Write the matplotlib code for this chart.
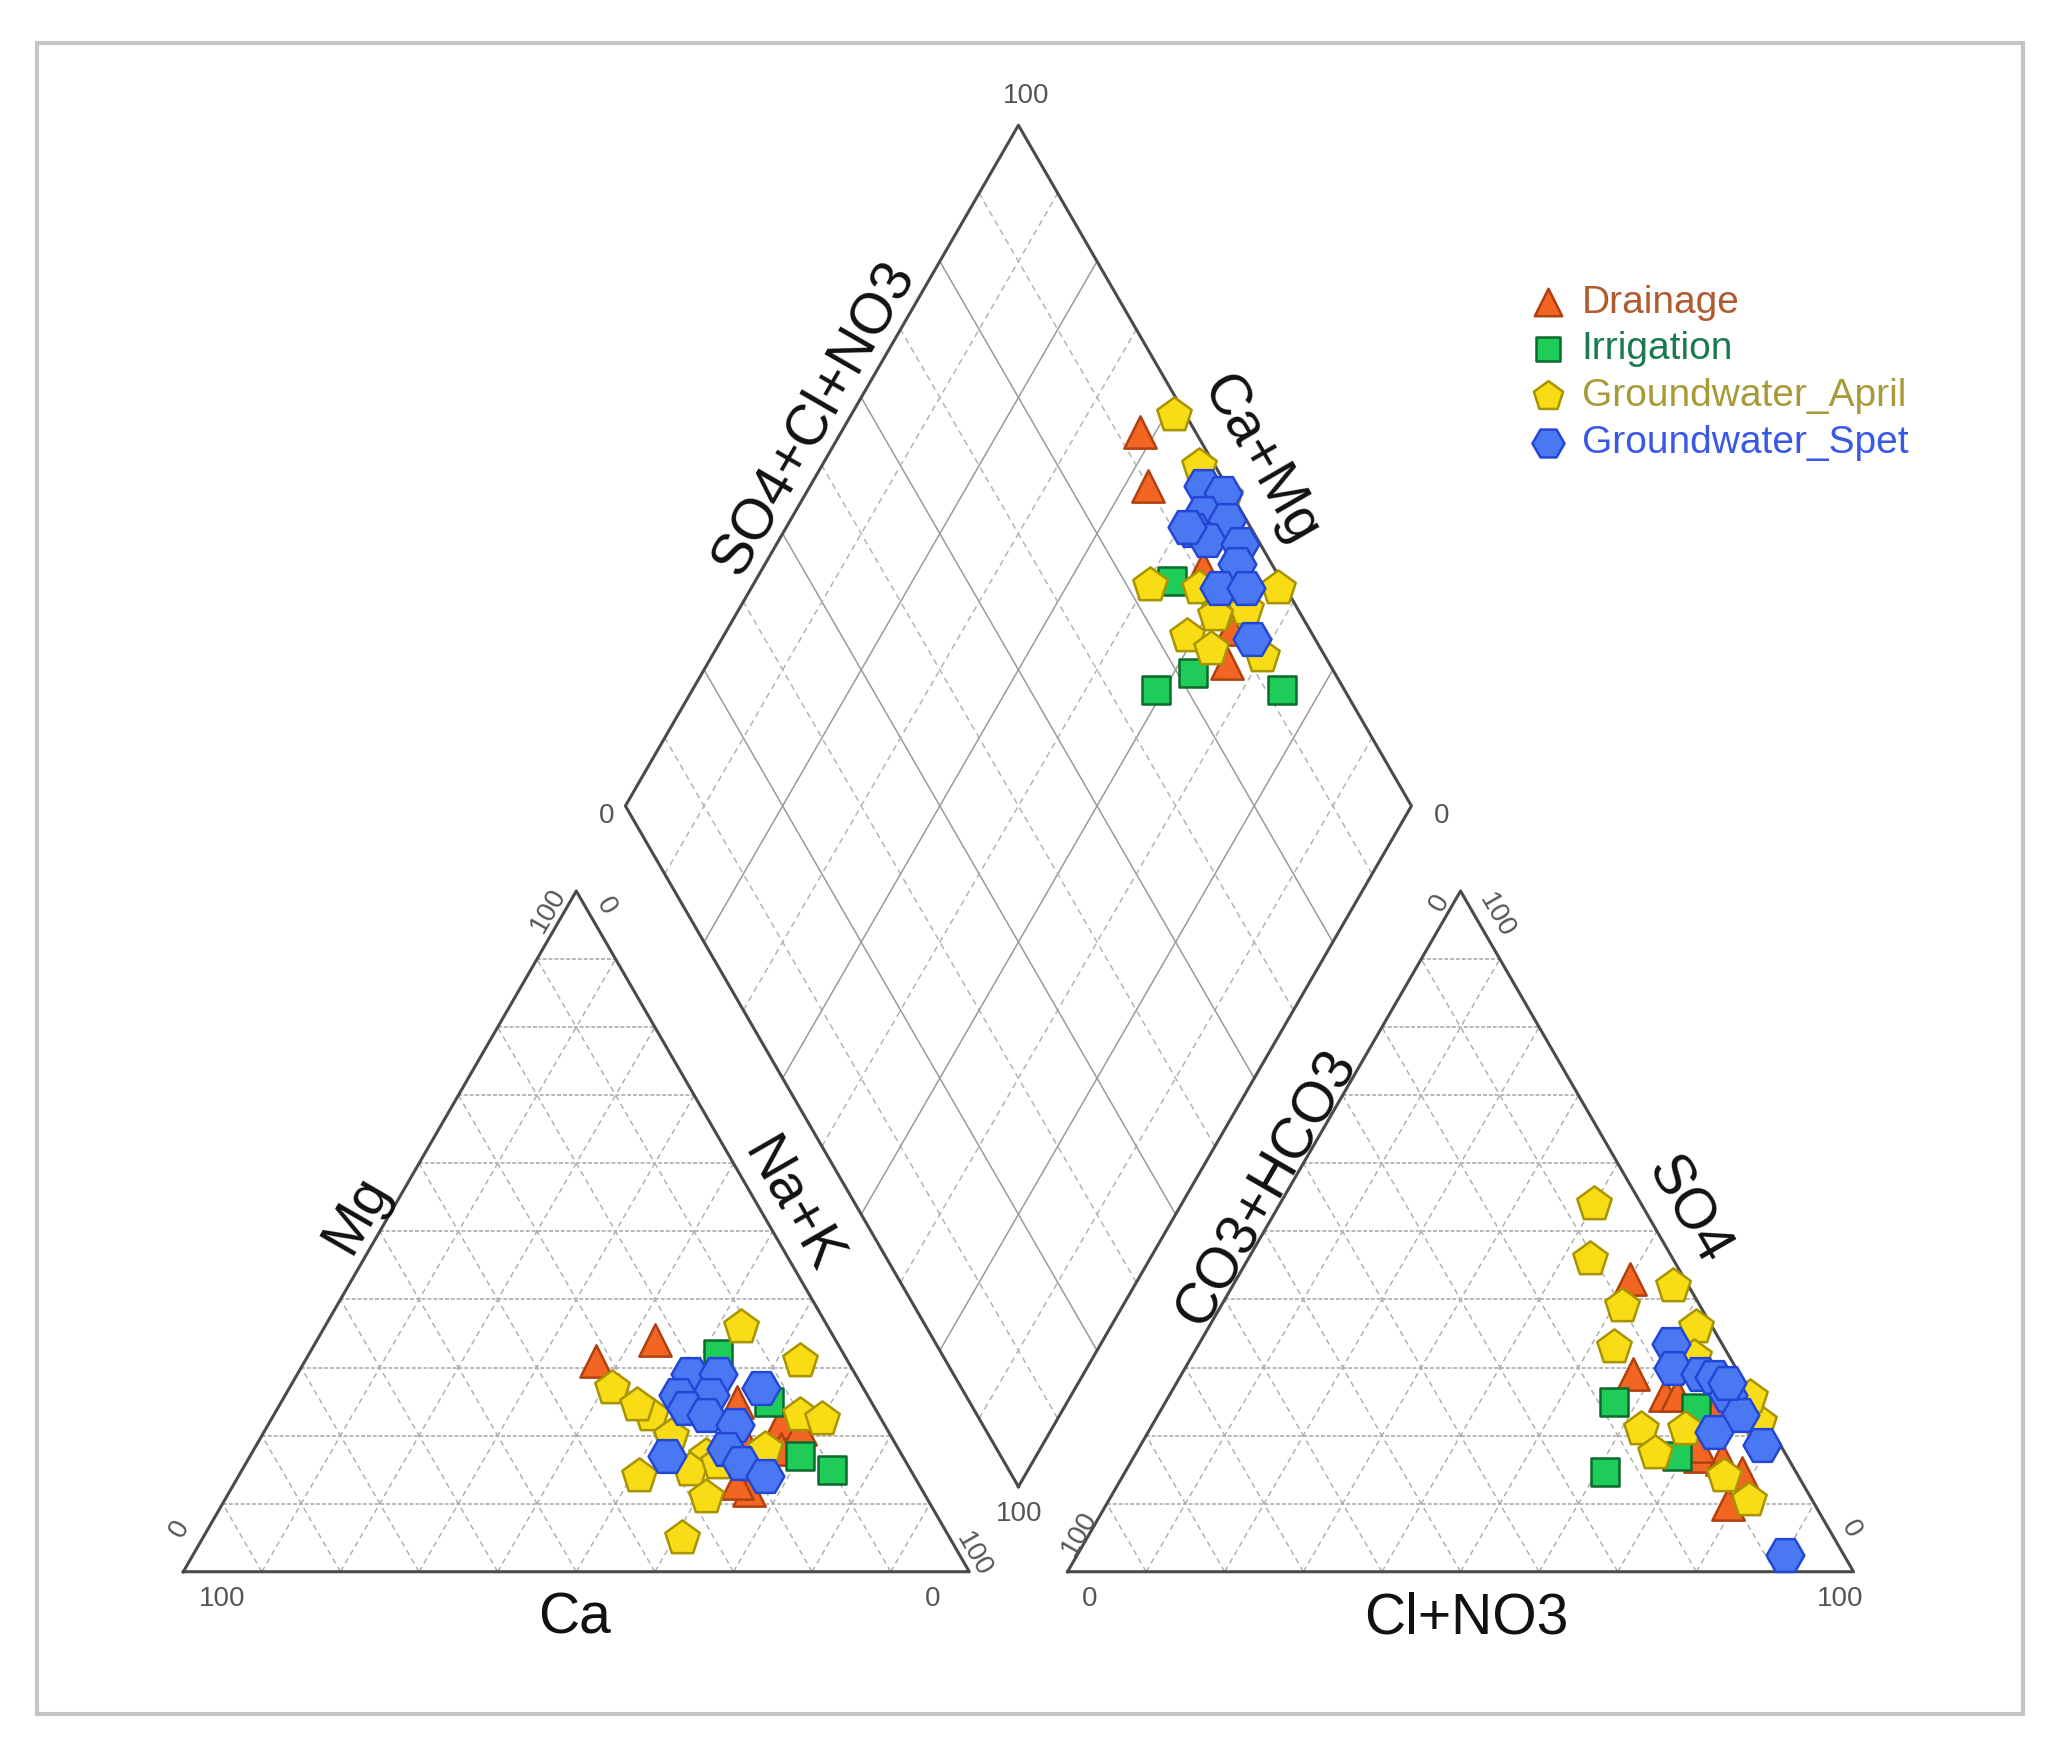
import matplotlib
matplotlib.use("Agg")
import matplotlib.pyplot as plt
from matplotlib.patches import Rectangle
import numpy as np

plt.rcParams['font.family'] = ['Liberation Sans', 'DejaVu Sans']

# cation triangle (percent): Ca, Mg  (Na+K = 100 - Ca - Mg)
drain_ca = [32, 23, 17, 13, 11, 15, 22, 23, 19]
drain_mg = [31, 34, 25, 22, 21, 18, 12, 13, 19]
irr_ca = [16, 13, 13, 10]
irr_mg = [32, 25, 17, 15]
apr_ca = [11, 6, 32, 29, 30, 28, 10, 7.5, 17, 25, 28, 35, 28, 34, 24]
apr_mg = [36, 31, 27, 23, 24.5, 20, 23, 22.5, 18, 17, 15, 14, 11, 5, 16]
sep_ca = [21, 17.5, 24, 20, 24, 22, 13, 19, 22, 21, 30, 19]
sep_mg = [29, 29, 26, 26, 24, 23, 27, 21.5, 18, 16, 17, 14]

# anion triangle (percent): Cl+NO3, SO4  (CO3+HCO3 = rest)
drain_cl = [50, 57.5, 63, 64.5, 70, 72, 75, 78.5, 79, 71]
drain_so4 = [43, 29, 26, 26, 24, 17, 16.5, 14.5, 10, 18.5]
irr_cl = [57, 68, 69, 61]
irr_so4 = [25, 24, 17, 14.7]
apr_cl = [40, 43.5, 56, 51, 62, 53, 64, 62.5, 68, 66, 76.5, 81.5, 77, 74]
apr_so4 = [54, 46, 42, 39, 36, 33, 31.5, 21, 21, 17.5, 14, 10.5, 22, 25.7]
sep_cl = [60, 62, 66, 68, 71, 74, 72, 79, 90, 70]
sep_so4 = [33.5, 30, 29, 28.6, 26, 23, 20.5, 18.6, 2.5, 27.7]

# diamond (percent): Ca+Mg, SO4+Cl+NO3
drain_camg = [62, 57, 44, 36, 34]
drain_so4cl = [93, 90, 91, 90, 87]
irr_camg = [47, 37.5, 41, 25]
irr_so4cl = [86, 82, 76, 92]
apr_camg = [59, 52, 49.5, 33, 43, 39, 35.5, 41, 37, 30, 39, 46.5]
apr_so4cl = [98.5, 98, 83, 99, 89, 90, 93.5, 84, 86, 92, 89, 99]
sep_camg = [50, 47, 48, 44.5, 48, 45.5, 41, 40, 40.5, 37, 32.5, 49]
sep_so4cl = [97, 99, 95, 97.5, 92.5, 93.5, 97.5, 95.5, 91.5, 95, 92, 92]

H = np.sqrt(3) / 2
GAP = 0.125
X0 = 1 + GAP


def cation_xy(ca, mg):
    ca = np.asarray(ca) / 100.0
    mg = np.asarray(mg) / 100.0
    nak = 1 - ca - mg
    return nak + 0.5 * mg, H * mg


def anion_xy(cl, so4):
    cl = np.asarray(cl) / 100.0
    so4 = np.asarray(so4) / 100.0
    return X0 + cl + 0.5 * so4, H * so4


def diamond_xy(camg, so4cl):
    m = np.asarray(camg) / 100.0
    a = np.asarray(so4cl) / 100.0
    return 1 + GAP / 2 + 0.5 * a - 0.5 * m, H * (GAP + a + m)


fig = plt.figure(figsize=(20.48, 17.5), dpi=100)
ax = fig.add_axes([0, 0, 1, 1])
ax.set_xlim(-0.2332, 2.3724)
ax.set_ylim(-0.2268, 1.9996)
ax.axis('off')

# outer frame
ax.add_patch(Rectangle((-0.1864, -0.1808), 2.527, 2.1253, fill=False,
                       edgecolor='#c4c4c4', lw=3))

edge_c = '#4a4a4a'
grid_c = '#aaaaaa'

# triangles: grid and outlines
for ox in [0, X0]:
    for i in range(1, 10):
        f = i / 10
        ax.plot([ox + 0.5 * f, ox + 1 - 0.5 * f], [H * f, H * f],
                color='#b8b8b8', lw=1.4, ls=(0, (2, 1)), zorder=1)
        ax.plot([ox + f, ox + f + 0.5 * (1 - f)], [0, H * (1 - f)],
                color=grid_c, lw=1, ls=(0, (4, 3)), zorder=1)
        ax.plot([ox + 1 - f, ox + 0.5 * (1 - f)], [0, H * (1 - f)],
                color=grid_c, lw=1, ls=(0, (4, 3)), zorder=1)
    ax.plot([ox, ox + 1, ox + 0.5, ox], [0, 0, H, 0], color=edge_c,
            lw=2.2, zorder=2)

# diamond grid
for i in range(1, 10):
    v = i * 10
    solid = i % 2 == 0
    sty = dict(color='#9a9a9a' if solid else '#b4b4b4', lw=1.1,
               ls='-' if solid else (0, (4, 3)), zorder=1)
    xa, ya = diamond_xy([0, 100], [v, v])
    ax.plot(xa, ya, **sty)
    xb, yb = diamond_xy([v, v], [0, 100])
    ax.plot(xb, yb, **sty)
dx, dy = diamond_xy([0, 0, 100, 100, 0], [0, 100, 100, 0, 0])
ax.plot(dx, dy, color=edge_c, lw=2.2, zorder=2)

# tick labels
tk = dict(fontsize=20, color='#555555', ha='center', va='center',
          rotation_mode='anchor')
ax.text(0.049, -0.035, '100', **tk)
ax.text(0.953, -0.035, '0', **tk)
ax.text(-0.004, 0.055, '0', rotation=60, **tk)
ax.text(0.465, 0.842, '100', rotation=60, **tk)
ax.text(0.538, 0.847, '0', rotation=-60, **tk)
ax.text(1.006, 0.022, '100', rotation=-60, **tk)
ax.text(1.153, -0.035, '0', **tk)
ax.text(2.108, -0.035, '100', **tk)
ax.text(1.14, 0.049, '100', rotation=60, **tk)
ax.text(1.599, 0.851, '0', rotation=60, **tk)
ax.text(1.671, 0.835, '100', rotation=-60, **tk)
ax.text(2.122, 0.054, '0', rotation=-60, **tk)
ax.text(1.072, 1.877, '100', **tk)
ax.text(0.538, 0.961, '0', **tk)
ax.text(1.601, 0.961, '0', **tk)
ax.text(1.063, 0.074, '100', **tk)

# axis titles
lb = dict(fontsize=41, color='#111111', ha='center', va='center',
          rotation_mode='anchor')
ax.text(0.498, -0.06, 'Ca', **lb)
ax.text(1.632, -0.06, 'Cl+NO3', **lb)
ax.text(0.221, 0.455, 'Mg', rotation=60, **lb)
ax.text(0.774, 0.466, 'Na+K', rotation=-60, **lb)
ax.text(1.379, 0.488, 'CO3+HCO3', rotation=60, **lb)
ax.text(1.913, 0.46, 'SO4', rotation=-60, **lb)
ax.text(0.802, 1.468, 'SO4+Cl+NO3', rotation=60, **lb)
ax.text(1.37, 1.415, 'Ca+Mg', rotation=-60, **lb)

groups = [
    ('Drainage', '^', '#f26522', '#b0400f', 540,
     drain_ca, drain_mg, drain_cl, drain_so4, drain_camg, drain_so4cl),
    ('Irrigation', 's', '#1fcc5a', '#0b6a2c', 420,
     irr_ca, irr_mg, irr_cl, irr_so4, irr_camg, irr_so4cl),
    ('Groundwater_April', 'p', '#f8dc16', '#a89400', 680,
     apr_ca, apr_mg, apr_cl, apr_so4, apr_camg, apr_so4cl),
    ('Groundwater_Spet', 'H', '#4a78f2', '#2446d6', 740,
     sep_ca, sep_mg, sep_cl, sep_so4, sep_camg, sep_so4cl),
]

handles = []
for k, (name, mk, fc, ec, s, ca, mg, cl, so4, camg, so4cl) in enumerate(groups):
    sty = dict(marker=mk, s=s, facecolor=fc, edgecolor=ec, linewidths=1.8,
               zorder=5 + k)
    x, y = cation_xy(ca, mg)
    h = ax.scatter(x, y, label=name, **sty)
    x, y = anion_xy(cl, so4)
    ax.scatter(x, y, **sty)
    x, y = diamond_xy(camg, so4cl)
    ax.scatter(x, y, **sty)
    handles.append(h)

ax.legend(handles=handles, loc='center left', bbox_to_anchor=(0.7466, 0.7869),
          frameon=False, fontsize=28, handlelength=1.0, handletextpad=0.35,
          labelspacing=0.28, borderpad=0, borderaxespad=0, markerscale=0.85,
          labelcolor=['#b05a30', '#1a7a4e', '#a89a38', '#3a58e6'])

fig.savefig('out.png', dpi=100)
